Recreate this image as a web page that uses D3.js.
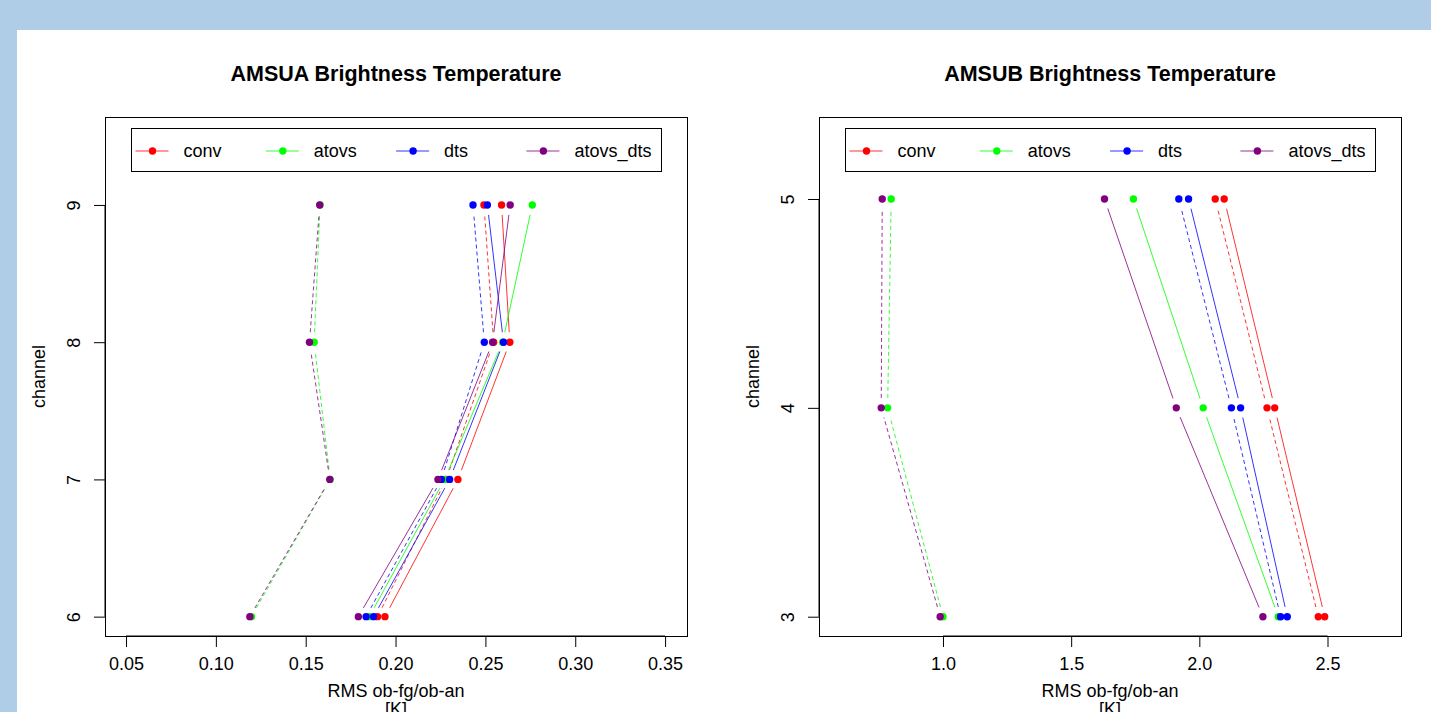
<!DOCTYPE html>
<html>
<head>
<meta charset="utf-8">
<script src="https://cdn.jsdelivr.net/npm/d3@7"></script>
<style>
  body { margin: 0; background: #afcde6; }
  svg { display: block; }
  text { font-family: "Liberation Sans", Arial, Helvetica, sans-serif; fill: #000; }
</style>
</head>
<body>
<div id="chart"></div>
<script>
(() => {
    // series names + colours (legend order)
    let seriesNames = ["conv", "atovs", "dts", "atovs_dts"];
    let seriesColors = ["#ff0000", "#00ff00", "#0000ff", "#800080"];

    // AMSUA, channels 6..9 : ob-fg (solid) and ob-an (dashed)
    let amsuaChannels = [6, 7, 8, 9];
    let amsuaConvFg = [0.1941, 0.2347, 0.2636, 0.2590];
    let amsuaConvAn = [0.1900, 0.2282, 0.2546, 0.2492];
    let amsuaAtovsFg = [0.1854, 0.2273, 0.2596, 0.2761];
    let amsuaAtovsAn = [0.1198, 0.1636, 0.1547, 0.1580];
    let amsuaDtsFg = [0.1878, 0.2301, 0.2601, 0.2511];
    let amsuaDtsAn = [0.1836, 0.2255, 0.2494, 0.2431];
    let amsuaAtovsDtsFg = [0.1793, 0.2236, 0.2540, 0.2638];
    let amsuaAtovsDtsAn = [0.1189, 0.1634, 0.1521, 0.1578];
    let amsuaXTicks = [0.05, 0.10, 0.15, 0.20, 0.25, 0.30, 0.35];

    // AMSUB, channels 3..5
    let amsubChannels = [3, 4, 5];
    let amsubConvFg = [2.489, 2.294, 2.097];
    let amsubConvAn = [2.464, 2.264, 2.062];
    let amsubAtovsFg = [2.308, 2.015, 1.743];
    let amsubAtovsAn = [1.000, 0.784, 0.798];
    let amsubDtsFg = [2.343, 2.161, 1.958];
    let amsubDtsAn = [2.317, 2.125, 1.920];
    let amsubAtovsDtsFg = [2.248, 1.910, 1.630];
    let amsubAtovsDtsAn = [0.989, 0.759, 0.763];
    let amsubXTicks = [1.0, 1.5, 2.0, 2.5];

    let w = 1431;
    let h = 712;
    let svg = d3.select("#chart")
        .append("svg")
        .attr("width", w)
        .attr("height", h);

    svg.append("rect")
        .attr("x", 17).attr("y", 30)
        .attr("width", w - 17).attr("height", h - 30)
        .attr("fill", "#fff");

    let drawPanel = (cfg) => {
        let g = svg.append("g");
        let x = d3.scaleLinear().domain(cfg.xDomain).range([cfg.left, cfg.right]);
        let y = d3.scaleLinear().domain(cfg.yDomain).range([cfg.bottom, cfg.top]);
        let midX = (cfg.left + cfg.right) / 2;

        g.append("text")
            .attr("x", midX).attr("y", 81)
            .attr("text-anchor", "middle")
            .style("font-size", "21.5px").style("font-weight", "bold")
            .text(cfg.title);

        // x axis
        let xAxis = d3.axisBottom(x)
            .tickValues(cfg.xTicks)
            .tickFormat(cfg.xFormat)
            .tickSizeInner(11).tickSizeOuter(0).tickPadding(10);
        let xg = g.append("g")
            .attr("transform", "translate(0," + cfg.bottom + ")")
            .call(xAxis);
        xg.select(".domain").attr("d", "M" + x(cfg.xTicks[0]) + ",0H" + x(cfg.xTicks[cfg.xTicks.length - 1]));

        // y axis
        let yAxis = d3.axisLeft(y)
            .tickValues(cfg.channels)
            .tickFormat(d3.format("d"))
            .tickSizeInner(11).tickSizeOuter(0).tickPadding(0);
        let yg = g.append("g")
            .attr("transform", "translate(" + cfg.left + ",0)")
            .call(yAxis);
        yg.select(".domain").attr("d", "M0," + y(cfg.channels[0]) + "V" + y(cfg.channels[cfg.channels.length - 1]));
        yg.selectAll(".tick text")
            .attr("x", null).attr("dy", null)
            .attr("text-anchor", "middle")
            .attr("transform", "translate(-31,0) rotate(-90)")
            .attr("dy", "0.35em");

        g.selectAll(".tick text").style("font-size", "18px").attr("fill", "#000");
        g.selectAll(".tick line, .domain").attr("stroke", "#000");

        g.append("text")
            .attr("x", midX).attr("y", 697)
            .attr("text-anchor", "middle")
            .style("font-size", "18px")
            .text("RMS ob-fg/ob-an");
        g.append("text")
            .attr("x", midX).attr("y", 715)
            .attr("text-anchor", "middle")
            .style("font-size", "18px")
            .text("[K]");
        g.append("text")
            .attr("transform", "translate(" + (cfg.left - 66) + "," + ((cfg.top + cfg.bottom) / 2) + ") rotate(-90)")
            .attr("text-anchor", "middle")
            .attr("dy", "0.35em")
            .style("font-size", "18px")
            .text("channel");

        // box
        g.append("rect")
            .attr("x", cfg.left + 0.5).attr("y", cfg.top + 0.5)
            .attr("width", cfg.right - cfg.left).attr("height", cfg.bottom - cfg.top)
            .attr("fill", "none").attr("stroke", "#000");

        // lines with R type="b" gaps around points
        let gap = 10;
        let drawSeries = (values, color, dashed) => {
            let pts = values.map((v, i) => [x(v), y(cfg.channels[i])]);
            for (let i = 0; i < pts.length - 1; i++) {
                let [x1, y1] = pts[i];
                let [x2, y2] = pts[i + 1];
                let len = Math.hypot(x2 - x1, y2 - y1);
                if (len <= 2 * gap) continue;
                let ux = (x2 - x1) / len;
                let uy = (y2 - y1) / len;
                g.append("line")
                    .attr("x1", x1 + ux * gap).attr("y1", y1 + uy * gap)
                    .attr("x2", x2 - ux * gap).attr("y2", y2 - uy * gap)
                    .attr("stroke", color)
                    .attr("stroke-width", 1)
                    .attr("stroke-opacity", 0.8)
                    .attr("stroke-dasharray", dashed ? "4,3" : null);
            }
            g.selectAll(null)
                .data(pts)
                .enter()
                .append("circle")
                .attr("cx", d => d[0])
                .attr("cy", d => d[1])
                .attr("r", 3.7)
                .attr("fill", color);
        };

        cfg.series.forEach((s, i) => {
            drawSeries(s[0], seriesColors[i], false);
            drawSeries(s[1], seriesColors[i], true);
        });

        // legend
        let lx = cfg.left + 26;
        let lg = g.append("g");
        lg.append("rect")
            .attr("x", lx + 0.5).attr("y", 128.5)
            .attr("width", 530).attr("height", 43)
            .attr("fill", "#fff").attr("stroke", "#000");
        seriesNames.forEach((name, i) => {
            let ex = lx + i * 130.3;
            lg.append("line")
                .attr("x1", ex + 4.5).attr("x2", ex + 37.5)
                .attr("y1", 151).attr("y2", 151)
                .attr("stroke", seriesColors[i]).attr("stroke-opacity", 0.8);
            lg.append("circle")
                .attr("cx", ex + 21.5).attr("cy", 151).attr("r", 3.7)
                .attr("fill", seriesColors[i]);
            lg.append("text")
                .attr("x", ex + 52.5).attr("y", 151)
                .attr("dy", "0.35em")
                .style("font-size", "18px")
                .text(name);
        });
    };

    drawPanel({
        title: "AMSUA Brightness Temperature",
        left: 105, right: 687, top: 117, bottom: 636,
        xDomain: [0.0383, 0.3622],
        yDomain: [5.859, 9.641],
        xTicks: amsuaXTicks,
        xFormat: d3.format(".2f"),
        channels: amsuaChannels,
        series: [
            [amsuaConvFg, amsuaConvAn],
            [amsuaAtovsFg, amsuaAtovsAn],
            [amsuaDtsFg, amsuaDtsAn],
            [amsuaAtovsDtsFg, amsuaAtovsDtsAn]
        ]
    });

    drawPanel({
        title: "AMSUB Brightness Temperature",
        left: 819, right: 1401, top: 117, bottom: 636,
        xDomain: [0.5163, 2.7867],
        yDomain: [2.9076, 5.3926],
        xTicks: amsubXTicks,
        xFormat: d3.format(".1f"),
        channels: amsubChannels,
        series: [
            [amsubConvFg, amsubConvAn],
            [amsubAtovsFg, amsubAtovsAn],
            [amsubDtsFg, amsubDtsAn],
            [amsubAtovsDtsFg, amsubAtovsDtsAn]
        ]
    });
})();
</script>
</body>
</html>
